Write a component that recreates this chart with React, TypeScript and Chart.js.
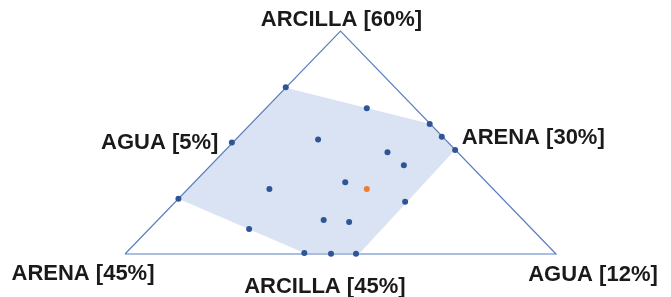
import React, { useEffect, useRef } from "react";
import { Chart, registerables } from "chart.js";

Chart.register(...registerables);

// Diagram coordinates: x = position along base (0–100), y = height (0–100)
const triangleX = [0, 50, 100, 0];
const triangleY = [0, 100, 0, 0];

const regionX = [37.3, 70.7, 76.6, 54.5, 41.6, 12.4, 37.3];
const regionY = [74.6, 58.4, 46.8, 0.5, 0.5, 24.8, 74.6];

const sampleX = [37.3, 24.8, 12.4, 28.8, 41.6, 47.8, 53.6, 65.0, 76.6, 73.5, 70.7, 56.1, 44.8, 60.9, 64.7, 51.1, 33.5, 46.1, 52.0];
const sampleY = [74.8, 50.0, 24.8, 11.2, 0.4, 0.1, 0.1, 23.4, 46.6, 52.6, 58.3, 65.4, 51.4, 45.6, 39.8, 32.2, 29.1, 15.3, 14.4];

const targetX = [56.1];
const targetY = [29.1];

const cornerLabels = ["ARCILLA [60%]", "ARENA [45%]", "AGUA [12%]"];
const sideLabels = ["AGUA [5%]", "ARENA [30%]", "ARCILLA [45%]"];

const toPts = (xs: number[], ys: number[]) => xs.map((x, i) => ({ x, y: ys[i] }));

const labelPlugin = {
  id: "ternaryLabels",
  afterDraw(chart: any) {
    const ctx = chart.ctx;
    const xs = chart.scales.x;
    const ys = chart.scales.y;
    const px = (v: number) => xs.getPixelForValue(v);
    const py = (v: number) => ys.getPixelForValue(v);
    ctx.save();
    ctx.font = "bold 22px 'Liberation Sans', Arial, sans-serif";
    ctx.fillStyle = "#1a1a1a";
    ctx.textAlign = "center";
    ctx.textBaseline = "alphabetic";
    // corners
    ctx.fillText(cornerLabels[0], px(50) + 1, py(100) - 5);
    ctx.fillText(cornerLabels[1], px(0) - 42, py(0) + 26);
    ctx.fillText(cornerLabels[2], px(100) + 37, py(0) + 27);
    // sides
    ctx.fillText(sideLabels[0], px(25) - 73, py(50) + 6);
    ctx.fillText(sideLabels[1], px(75) + 85, py(50) + 1);
    ctx.fillText(sideLabels[2], px(48) - 7, py(0) + 39);
    ctx.restore();
  },
};

export default function App() {
  const ref = useRef<HTMLCanvasElement>(null);
  useEffect(() => {
    if (!ref.current) return;
    const chart = new Chart(ref.current, {
      type: "scatter",
      data: {
        datasets: [
          {
            data: toPts(targetX, targetY),
            backgroundColor: "#ED7D31",
            borderColor: "#ED7D31",
            pointRadius: 3,
            pointBorderWidth: 0,
            order: 0,
            clip: false,
          } as any,
          {
            data: toPts(sampleX, sampleY),
            backgroundColor: "#2F5597",
            borderColor: "#2F5597",
            pointRadius: 3,
            pointBorderWidth: 0,
            order: 1,
            clip: false,
          },
          {
            data: toPts(triangleX, triangleY),
            showLine: true,
            borderColor: "#5B7EBF",
            borderWidth: 1.2,
            pointRadius: 0,
            fill: false,
            order: 2,
            clip: false,
            tension: 0,
          },
          {
            data: toPts(regionX, regionY),
            showLine: true,
            borderWidth: 0,
            borderColor: "rgba(0,0,0,0)",
            backgroundColor: "#DAE3F3",
            pointRadius: 0,
            fill: "shape",
            order: 3,
            clip: false,
            tension: 0,
          } as any,
        ],
      },
      options: {
        animation: false,
        responsive: true,
        maintainAspectRatio: false,
        layout: { padding: { left: 125, right: 115, top: 31, bottom: 43 } },
        scales: {
          x: { type: "linear", min: 0, max: 100, display: false },
          y: { type: "linear", min: 0, max: 100, display: false },
        },
        plugins: {
          legend: { display: false },
          tooltip: { enabled: false },
        },
      },
      plugins: [labelPlugin],
    });
    return () => chart.destroy();
  }, []);
  return (
    <div style={{ position: "fixed", left: 0, top: 0, width: 671, height: 297, background: "#fff" }}>
      <canvas ref={ref} />
    </div>
  );
}
